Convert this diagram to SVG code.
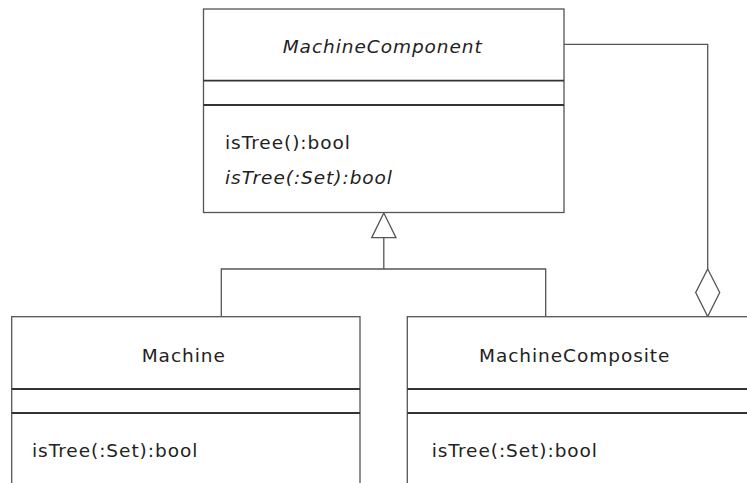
<svg xmlns="http://www.w3.org/2000/svg" width="747" height="483" viewBox="0 0 747 483">
<style>
.box{fill:#fff;stroke:#555;stroke-width:1.3}
.div{stroke:#333;stroke-width:1.8}
.t{font-family:"DejaVu Sans",Verdana,sans-serif;font-size:18.5px;letter-spacing:0.95px;fill:#222}
.it{font-style:italic}
.c{fill:none;stroke:#555;stroke-width:1.3}
</style>
<rect width="747" height="483" fill="#fff"/>
<g id="connectors">
<path class="c" d="M564 44.3 H707.7 V269"/>
<polygon class="c" fill="#fff" points="707.7,269 719.7,292.5 707.7,316.5 695.7,292.5"/>
<polygon class="c" fill="#fff" points="383.8,213 396,237.7 371.7,237.7"/>
<path class="c" d="M383.8 237.7 V269 M221.3 316.5 V269 H545.7 V316.5"/>
</g>
<g id="MachineComponent">
<rect class="box" x="203.5" y="9" width="360.5" height="203.5"/>
<line class="div" x1="203.5" y1="80.7" x2="564" y2="80.7"/>
<line class="div" x1="203.5" y1="105" x2="564" y2="105"/>
<text class="t it" x="282.7" y="53">MachineComponent</text>
<text class="t" x="225" y="149">isTree():bool</text>
<text class="t it" x="225" y="184">isTree(:Set):bool</text>
</g>
<g id="Machine">
<rect class="box" x="11.7" y="316.7" width="348.3" height="190"/>
<line class="div" x1="11.7" y1="389" x2="360" y2="389"/>
<line class="div" x1="11.7" y1="413" x2="360" y2="413"/>
<text class="t" x="141.7" y="361.5">Machine</text>
<text class="t" x="32" y="456.5">isTree(:Set):bool</text>
</g>
<g id="MachineComposite">
<rect class="box" x="407.3" y="316.7" width="360" height="190"/>
<line class="div" x1="407.3" y1="389" x2="767" y2="389"/>
<line class="div" x1="407.3" y1="413" x2="767" y2="413"/>
<text class="t" x="479" y="361.5">MachineComposite</text>
<text class="t" x="431.7" y="456.5">isTree(:Set):bool</text>
</g>
</svg>
